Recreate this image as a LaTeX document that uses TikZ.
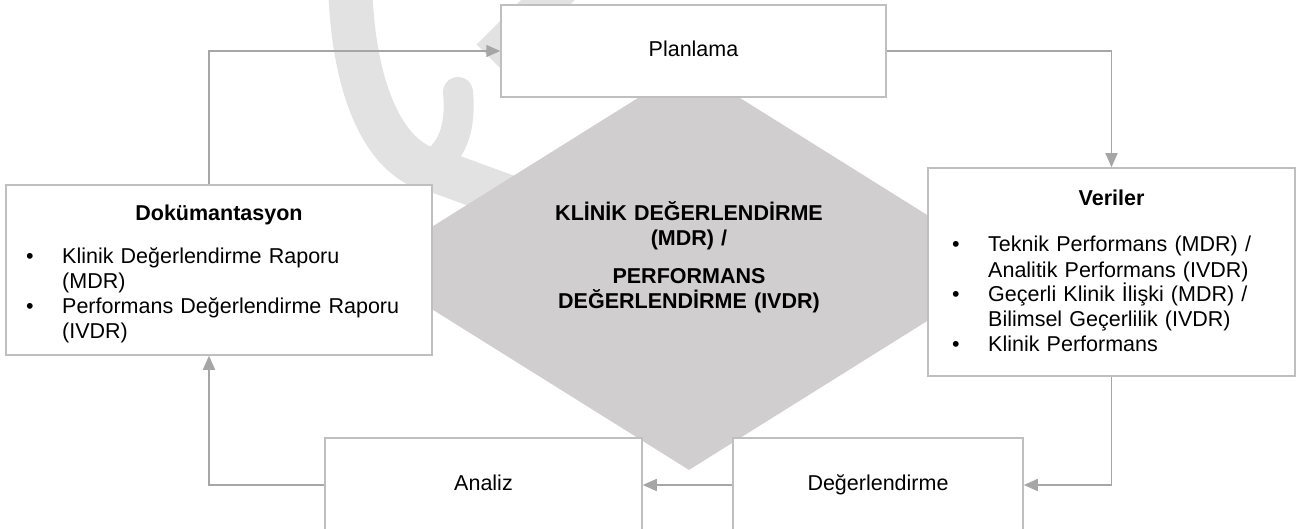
\documentclass[tikz,border=0pt]{standalone}
\usepackage{fontspec}
\setmainfont{Liberation Sans}
\usetikzlibrary{arrows.meta,shapes.geometric}
\definecolor{boxline}{RGB}{191,191,191}
\definecolor{arrowgray}{RGB}{166,166,166}
\definecolor{diamondgray}{RGB}{208,206,206}
\definecolor{markgray}{RGB}{226,226,226}
\newcommand{\blt}{\makebox[36pt][l]{\textbullet}}
\newcommand{\bind}{\hspace*{36pt}}

\begin{document}
\begin{tikzpicture}[x=1pt,y=-1pt,
  txt/.style={font=\fontsize{21.5}{25}\selectfont,inner sep=0pt},
  head/.style={font=\fontsize{21.5}{25}\selectfont\bfseries,inner sep=0pt},
  box/.style={draw=boxline,line width=1.5pt,fill=white,text height=15.5pt,text depth=4.5pt,
    font=\fontsize{21.5}{25}\selectfont},
  conn/.style={draw=arrowgray,line width=1.5pt,-{Triangle[length=14pt,width=12pt]}}]
\useasboundingbox (0,0) rectangle (1298,529);
\clip (0,0) rectangle (1298,529);
% watermark in the background
\draw[markgray,line width=44pt] (350,-20) .. controls (352,90) and (385,165) .. (440,172) -- (530,205);
\draw[markgray,line width=38pt] (578,-30) -- (490,58);
\draw[markgray,line width=30pt,line cap=round] (458,92) .. controls (462,135) and (448,160) .. (420,170);
% the diamond in the middle
\node[diamond,fill=diamondgray,minimum width=646,minimum height=404,inner sep=0pt] (klinik) at (689,268) {};
\node[head,text width=420pt,align=center,anchor=base] (klinikyazi) at (689,221)
  {KLİNİK DEĞERLENDİRME\\(MDR) /\\[13pt]PERFORMANS\\DEĞERLENDİRME (IVDR)};
% the boxes
\node[box,minimum width=385,minimum height=92] (plan) at (693.5,51) {Planlama};
\node[box,minimum width=426,minimum height=170] (dok) at (219,270) {};
\node[box,minimum width=367,minimum height=208] (veri) at (1111.5,272) {};
\node[box,minimum width=317,minimum height=94] (analiz) at (483.5,485) {Analiz};
\node[box,minimum width=290,minimum height=94] (deger) at (878,485) {Değerlendirme};
% texts in the two big boxes
\node[head,anchor=base] (dokbaslik) at (219,221) {Dokümantasyon};
\node[txt,text width=400pt,align=left,anchor=base west] (dokliste) at (26,264)
  {\blt Klinik Değerlendirme Raporu\\
   \bind (MDR)\\
   \blt Performans Değerlendirme Raporu\\
   \bind (IVDR)};
\node[head,anchor=base] (veribaslik) at (1111.5,206) {Veriler};
\node[txt,text width=340pt,align=left,anchor=base west] (veriliste) at (952,252)
  {\blt Teknik Performans (MDR) /\\
   \bind Analitik Performans (IVDR)\\
   \blt Geçerli Klinik İlişki (MDR) /\\
   \bind Bilimsel Geçerlilik (IVDR)\\
   \blt Klinik Performans};
% connectors
\draw[conn] ([xshift=-10pt]dok.north) |- (plan.west);
\draw[conn] (plan.east) -| (veri.north);
\draw[conn] (veri.south) |- (deger.east);
\draw[conn] (deger.west) -- (analiz.east);
\draw[conn] (analiz.west) -| ([xshift=-10pt]dok.south);
\end{tikzpicture}
\end{document}
